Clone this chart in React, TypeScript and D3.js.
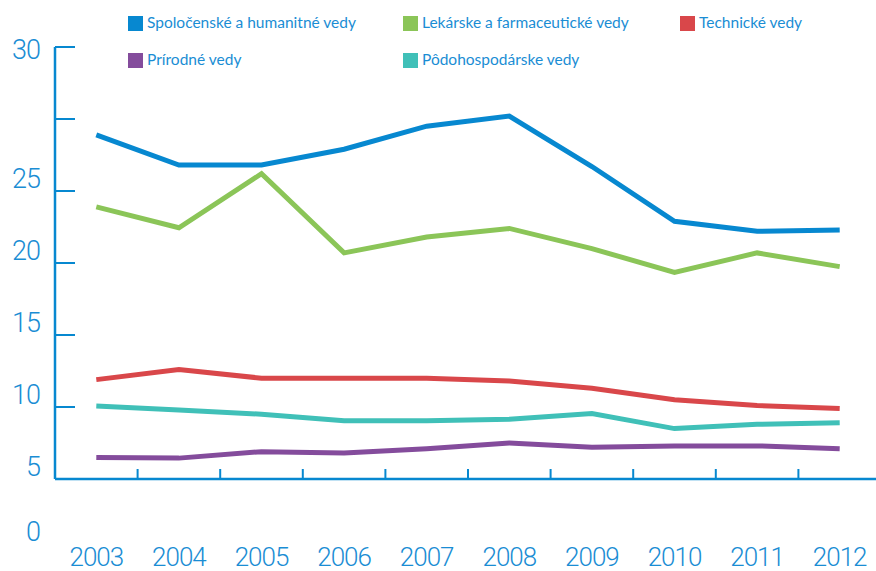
import React from 'react'
import * as d3 from 'd3'

// data
const years = ['2003', '2004', '2005', '2006', '2007', '2008', '2009', '2010', '2011', '2012']

const seriesNames = [
    'Spoločenské a humanitné vedy',
    'Lekárske a farmaceutické vedy',
    'Technické vedy',
    'Prírodné vedy',
    'Pôdohospodárske vedy',
]
const seriesColors = ['#0788d0', '#8bc558', '#d9474a', '#844c9c', '#40c0b8']

const spolocenske = [28.9, 26.8, 26.8, 27.9, 29.5, 30.2, 26.7, 22.9, 22.2, 22.3]
const lekarske = [23.9, 22.45, 26.2, 20.7, 21.8, 22.4, 21.0, 19.35, 20.7, 19.75]
const technicke = [11.9, 12.6, 12.0, 12.0, 12.0, 11.8, 11.3, 10.5, 10.1, 9.9]
const prirodne = [6.5, 6.45, 6.9, 6.8, 7.1, 7.5, 7.2, 7.3, 7.3, 7.1]
const podohospodarske = [10.07, 9.8, 9.5, 9.05, 9.05, 9.15, 9.55, 8.5, 8.8, 8.9]

const seriesValues = [spolocenske, lekarske, technicke, prirodne, podohospodarske]

// axis tick marks and the (oddly placed) labels of the original
const yTickValues = [10, 15, 20, 25, 30, 35]
const yLabelTexts = ['0', '5', '10', '15', '20', '25', '30']
const yLabelAt = [0, 5, 10, 15, 20, 25, 35]

const width = 876
const height = 571
const axisColor = '#0788d0'
const textColor = '#1a8dd4'
const numFont = "'Roboto', 'DejaVu Sans', sans-serif"
const legendFont = "'Lato', 'Noto Sans', sans-serif"

function App() {
    const left = 55
    const xScale = d3.scaleBand<string>().domain(years).range([left, 881]).padding(0)
    const bw = xScale.bandwidth()
    const yScale = d3.scaleLinear().domain([0, 35]).range([551, 47])
    const yMax = 35
    const baseY = yScale(5)

    const line = d3.line<number>()
        .x((_, i) => (xScale(years[i]) as number) + bw / 2)
        .y((v) => yScale(v))

    const legendCols = [128, 403, 680]
    const legendRows = [23, 60]

    return (
        <div>
            <style>{'body{margin:0}'}</style>
            <svg width={width} height={height} style={{ display: 'block', background: '#fff' }}>
                {/* legend */}
                {seriesNames.map((name, i) => {
                    const x = legendCols[i % 3]
                    const y = legendRows[Math.floor(i / 3)]
                    return (
                        <g key={name}>
                            <rect x={x} y={y - 7} width={15} height={15} fill={seriesColors[i]} />
                            <text x={x + 19} y={y + 5} fill={textColor} fontFamily={legendFont}
                                fontSize={15.5} >{name}</text>
                        </g>
                    )
                })}

                {/* y axis */}
                <line x1={left} x2={left} y1={yScale(yMax)} y2={baseY} stroke={axisColor} strokeWidth={2.5} />
                {yTickValues.map((v) => (
                    <line key={v} x1={left} x2={left + 20} y1={yScale(v)} y2={yScale(v)}
                        stroke={axisColor} strokeWidth={2} />
                ))}
                {yLabelTexts.map((t, i) => {
                    const at = yLabelAt[i]
                    const dy = at === yMax ? 3 : at === 0 ? -19 : -12
                    return (
                        <text key={t} x={40} y={yScale(at) + dy} textAnchor="end" dominantBaseline="central"
                            fill={textColor} fontFamily={numFont} fontWeight={300} fontSize={27}
                            letterSpacing={-1}>{t}</text>
                    )
                })}

                {/* x axis */}
                <line x1={left} x2={width} y1={baseY} y2={baseY} stroke={axisColor} strokeWidth={2.5} />
                {years.slice(1).map((yr) => (
                    <line key={yr} x1={xScale(yr)} x2={xScale(yr)} y1={baseY} y2={baseY - 10}
                        stroke={axisColor} strokeWidth={2} />
                ))}
                {years.map((yr) => (
                    <text key={yr} x={(xScale(yr) as number) + bw / 2} y={566} textAnchor="middle"
                        fill={textColor} fontFamily={numFont} fontWeight={300} fontSize={26}
                        letterSpacing={-1}>{yr}</text>
                ))}

                {/* series */}
                {seriesValues.map((vals, i) => (
                    <path key={seriesNames[i]} d={line(vals) || ''} fill="none" stroke={seriesColors[i]}
                        strokeWidth={5} strokeLinejoin="miter" />
                )).reverse()}
            </svg>
        </div>
    )
}

export default App
